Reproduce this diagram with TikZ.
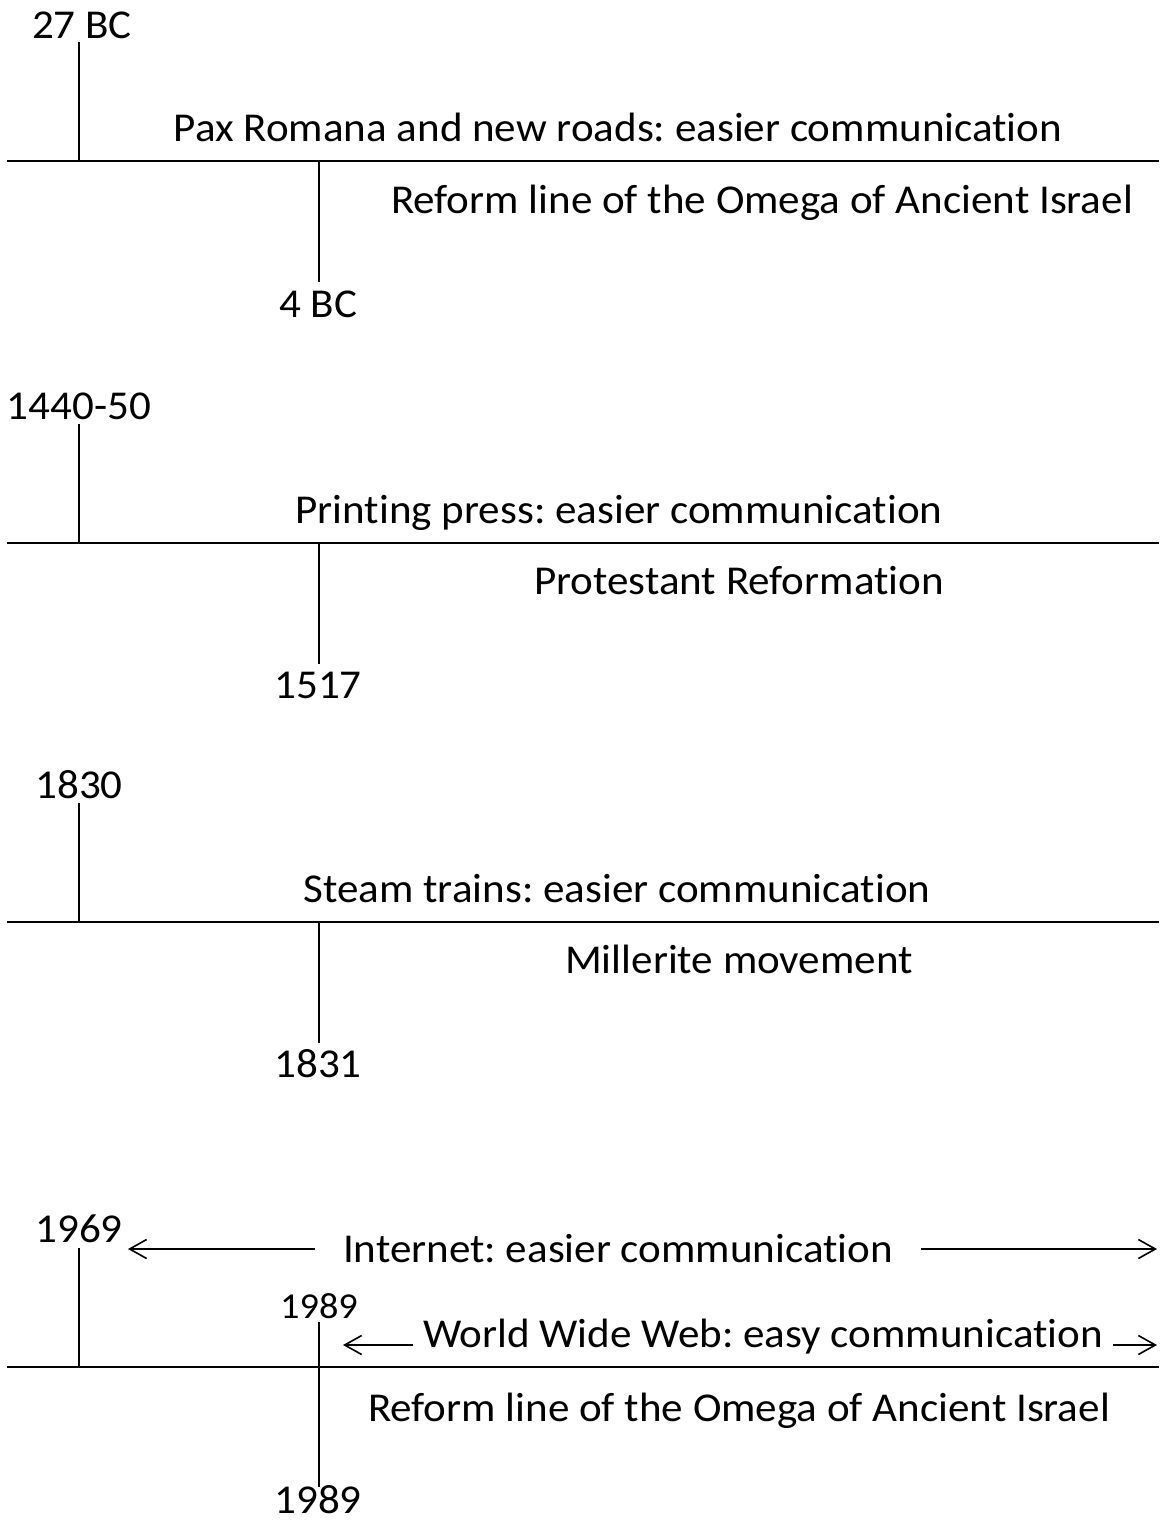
\documentclass[tikz,border=0pt]{standalone}
\usepackage{fontspec}
\setmainfont{Carlito}[FakeStretch=1.05, Ligatures=CommonOff]
\usetikzlibrary{arrows.meta}
\frenchspacing
\tikzset{
	date/.style={anchor=base, inner sep=0pt, font=\fontsize{41}{49}\selectfont},
	smalldate/.style={anchor=base, inner sep=0pt, font=\fontsize{36.5}{44}\selectfont},
	event/.style={anchor=base, inner sep=0pt, font=\fontsize{41}{49}\selectfont},
	axis/.style={line width=2.5pt},
	tick/.style={line width=1.7pt},
	span/.style={line width=1.6pt, -{Straight Barb[length=17pt, width=19pt]}},
}
\begin{document}
\begin{tikzpicture}[x=1pt, y=-1pt]
			\useasboundingbox (0,0) rectangle (1159,1528);
			
			% 27 BC / 4 BC
			\coordinate (ax1w) at (7,161);
			\coordinate (ax1e) at (1159,161);
			\coordinate (up1) at (79,161);
			\coordinate (up1t) at (79,42);
			\coordinate (dn1) at (319,161);
			\coordinate (dn1b) at (319,282);
			\node (d1a) [date] at (82,38) {27 BC};
			\node (e1a) [event] at (618,141) {Pax Romana and new roads: easier communication};
			\node (e1b) [event] at (762,213) {Reform line of the Omega of Ancient Israel};
			\node (d1b) [date] at (318,317) {4 BC};
			
			% 1440-50 / 1517
			\coordinate (ax2w) at (7,543);
			\coordinate (ax2e) at (1159,543);
			\coordinate (up2) at (79,543);
			\coordinate (up2t) at (79,424);
			\coordinate (dn2) at (319,543);
			\coordinate (dn2b) at (319,664);
			\node (d2a) [date] at (79,419) {1440-50};
			\node (e2a) [event] at (619,523) {Printing press: easier communication};
			\node (e2b) [event] at (739,594) {Protestant Reformation};
			\node (d2b) [date] at (318,698) {1517};
			
			% 1830 / 1831
			\coordinate (ax3w) at (7,922);
			\coordinate (ax3e) at (1159,922);
			\coordinate (up3) at (79,922);
			\coordinate (up3t) at (79,803);
			\coordinate (dn3) at (319,922);
			\coordinate (dn3b) at (319,1043);
			\node (d3a) [date] at (79,798) {1830};
			\node (e3a) [event] at (617,902) {Steam trains: easier communication};
			\node (e3b) [event] at (739,973) {Millerite movement};
			\node (d3b) [date] at (318,1077) {1831};
			
			% 1969 / 1989
			\coordinate (ax4w) at (7,1367);
			\coordinate (ax4e) at (1159,1367);
			\coordinate (up4) at (79,1367);
			\coordinate (up4t) at (79,1248);
			\coordinate (dn4t) at (319,1322);
			\coordinate (dn4b) at (319,1487);
			\node (d4a) [date] at (79,1242) {1969};
			\node (inet) [event, inner xsep=28pt] at (618,1262) {Internet: easier communication};
			\node (d4c) [smalldate] at (319,1318) {1989};
			\node (www) [event, inner xsep=10pt] at (763,1347) {World Wide Web: easy communication};
			\node (e4b) [event] at (739,1421) {Reform line of the Omega of Ancient Israel};
			\node (d4b) [date] at (318,1513) {1989};
			\coordinate (inetl) at (128,1249);
			\coordinate (inetr) at (1157,1249);
			\coordinate (wwwl) at (343,1345);
			\coordinate (wwwr) at (1157,1345);
			
			\begin{scope}[black]
				\draw[axis] (ax1w) -- (ax1e);
				\draw[tick] (up1) -- (up1t);
				\draw[tick] (dn1) -- (dn1b);
				
				\draw[axis] (ax2w) -- (ax2e);
				\draw[tick] (up2) -- (up2t);
				\draw[tick] (dn2) -- (dn2b);
				
				\draw[axis] (ax3w) -- (ax3e);
				\draw[tick] (up3) -- (up3t);
				\draw[tick] (dn3) -- (dn3b);
				
				\draw[axis] (ax4w) -- (ax4e);
				\draw[tick] (up4) -- (up4t);
				\draw[tick] (dn4t) -- (dn4b);
				
				\draw[span] (inet.west |- inetl) -- (inetl);
				\draw[span] (inet.east |- inetr) -- (inetr);
				\draw[span] (www.west |- wwwl) -- (wwwl);
				\draw[span] (www.east |- wwwr) -- (wwwr);
			\end{scope}
			
\end{tikzpicture}
\end{document}
